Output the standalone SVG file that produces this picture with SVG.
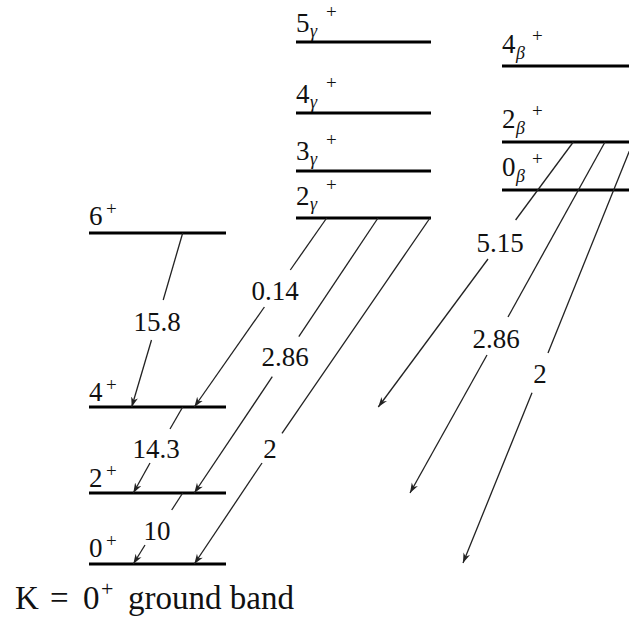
<svg xmlns="http://www.w3.org/2000/svg" width="629" height="621" viewBox="0 0 629 621">
<style>
.lvl{stroke:#000;stroke-width:3;fill:none}
.tr{stroke:#222;stroke-width:1.3;fill:none}
.arr{marker-end:url(#ah)}
.t{font-family:'Liberation Serif','Tinos','Times New Roman','Times','DejaVu Serif',serif;fill:#111}
.num{font-size:27px;text-anchor:middle}
.lab{font-size:27px}
.sup{font-size:19px}
.sub{font-size:18px;font-style:italic}
.big{font-size:33px}
</style>
<defs>
<marker id="ah" markerUnits="userSpaceOnUse" markerWidth="12" markerHeight="9" refX="10" refY="4" orient="auto">
<path d="M0,0.5 L10,4 L0,7.5 L3,4 z" fill="#222"/>
</marker>
</defs>
<rect width="629" height="621" fill="#fff"/>
<g class="t">
<g id="ground-6">
<line class="lvl" x1="89" y1="233" x2="226" y2="233"/>
<text class="lab" x="89" y="225">6</text><text class="sup" x="106" y="215">+</text>
</g>
<g id="ground-4">
<line class="lvl" x1="89" y1="407" x2="226" y2="407"/>
<text class="lab" x="89" y="401">4</text><text class="sup" x="106" y="391">+</text>
</g>
<g id="ground-2">
<line class="lvl" x1="89" y1="493" x2="226" y2="493"/>
<text class="lab" x="89" y="487">2</text><text class="sup" x="106" y="477">+</text>
</g>
<g id="ground-0">
<line class="lvl" x1="89" y1="564" x2="226" y2="564"/>
<text class="lab" x="89" y="557">0</text><text class="sup" x="106" y="547">+</text>
</g>
<g id="ground-label">
<text class="big" x="15" y="609">K</text>
<text class="big" x="50" y="609">=</text>
<text class="big" x="83" y="609">0</text>
<text style="font-size:22px" x="101" y="596">+</text>
<text class="big" x="128" y="609">ground band</text>
</g>

<g id="gamma-5">
<line class="lvl" x1="296" y1="42" x2="431" y2="42"/>
<text class="lab" x="296" y="32">5</text><text class="sub" x="310" y="37">γ</text><text class="sup" x="326" y="18">+</text>
</g>
<g id="gamma-4">
<line class="lvl" x1="296" y1="113" x2="431" y2="113"/>
<text class="lab" x="296" y="103">4</text><text class="sub" x="310" y="108">γ</text><text class="sup" x="326" y="89">+</text>
</g>
<g id="gamma-3">
<line class="lvl" x1="296" y1="171" x2="431" y2="171"/>
<text class="lab" x="296" y="160">3</text><text class="sub" x="310" y="165">γ</text><text class="sup" x="326" y="146">+</text>
</g>
<g id="gamma-2">
<line class="lvl" x1="296" y1="218" x2="431" y2="218"/>
<text class="lab" x="296" y="205">2</text><text class="sub" x="310" y="210">γ</text><text class="sup" x="326" y="191">+</text>
</g>

<g id="beta-4">
<line class="lvl" x1="502" y1="66" x2="629" y2="66"/>
<text class="lab" x="502" y="53">4</text><text class="sub" x="516" y="59">β</text><text class="sup" x="532" y="42">+</text>
</g>
<g id="beta-2">
<line class="lvl" x1="502" y1="142" x2="629" y2="142"/>
<text class="lab" x="502" y="128">2</text><text class="sub" x="516" y="134">β</text><text class="sup" x="532" y="117">+</text>
</g>
<g id="beta-0">
<line class="lvl" x1="502" y1="190" x2="629" y2="190"/>
<text class="lab" x="502" y="176">0</text><text class="sub" x="516" y="182">β</text><text class="sup" x="532" y="165">+</text>
</g>

<g id="connectors">
<line class="tr" x1="182.7" y1="233" x2="163.2" y2="300"/>
<line class="tr arr" x1="151.5" y1="340" x2="131.7" y2="407"/>
<text class="num" x="157" y="331">15.8</text>

<line class="tr" x1="182.7" y1="407" x2="170" y2="429"/>
<line class="tr arr" x1="150" y1="463" x2="133.3" y2="493"/>
<text class="num" x="156" y="458">14.3</text>

<line class="tr" x1="182.7" y1="493" x2="171.7" y2="510"/>
<line class="tr arr" x1="145" y1="545" x2="133.3" y2="564"/>
<text class="num" x="157" y="540">10</text>

<line class="tr" x1="326.7" y1="218" x2="290.3" y2="270"/>
<line class="tr arr" x1="264.4" y1="307" x2="194.3" y2="407"/>
<text class="num" x="275" y="300">0.14</text>

<line class="tr" x1="378" y1="218" x2="298.8" y2="336.7"/>
<line class="tr arr" x1="272.3" y1="376.7" x2="194.3" y2="493"/>
<text class="num" x="285" y="366">2.86</text>

<line class="tr" x1="430" y1="218" x2="282" y2="433.3"/>
<line class="tr arr" x1="262" y1="463" x2="194.3" y2="564"/>
<text class="num" x="270" y="458">2</text>

<line class="tr" x1="573.3" y1="142" x2="515.6" y2="220"/>
<line class="tr arr" x1="488" y1="259" x2="378.3" y2="407"/>
<text class="num" x="500" y="252">5.15</text>

<line class="tr" x1="605" y1="142" x2="508" y2="317"/>
<line class="tr arr" x1="487" y1="355" x2="410" y2="493"/>
<text class="num" x="496" y="348">2.86</text>

<line class="tr" x1="633" y1="142" x2="548" y2="353"/>
<line class="tr arr" x1="532" y1="392.7" x2="463" y2="563"/>
<text class="num" x="540" y="383">2</text>
</g>
</g>
</svg>
